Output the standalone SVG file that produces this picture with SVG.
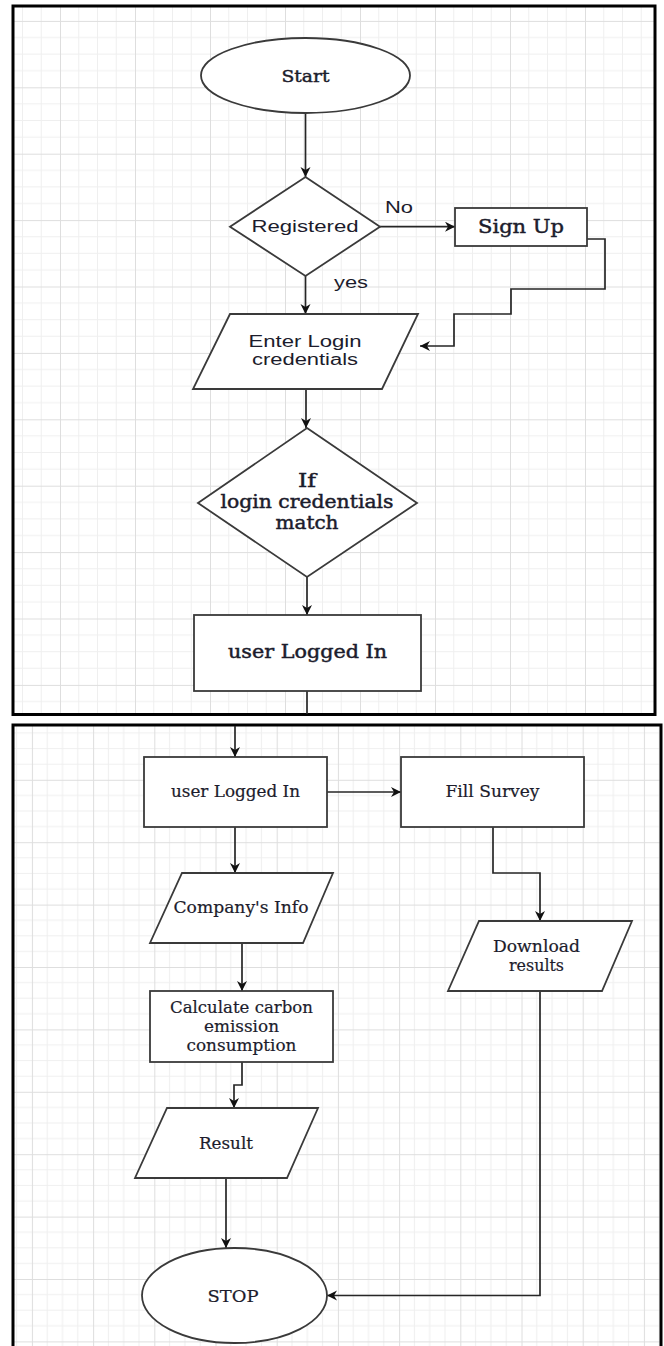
<svg xmlns="http://www.w3.org/2000/svg" width="664" height="1346" viewBox="0 0 664 1346">
<style>
.node{fill:#fff;stroke:#3a3a3a;stroke-width:1.8}
.edge{fill:none;stroke:#262626;stroke-width:1.7}
.arr{marker-end:url(#ah)}
.ser{font-family:"DejaVu Serif","Liberation Serif",serif;fill:#1c1c2c;text-anchor:middle}
.sb{stroke:#1c1c2c;stroke-width:0.45}
.sm{stroke:#1c1c2c;stroke-width:0.2}
.san{font-family:"Liberation Sans",Arial,sans-serif;fill:#1c1c2c;text-anchor:middle;font-size:16px}
.panel{stroke:#000;stroke-width:3}
</style>
<defs>
<marker id="ah" markerUnits="userSpaceOnUse" markerWidth="12" markerHeight="12" refX="10" refY="5" orient="auto">
<path d="M0,0 L10,5 L0,10 L3,5 Z" fill="#111"/>
</marker>
<pattern id="gridTop" patternUnits="userSpaceOnUse" x="60" y="20.9" width="75" height="66.4">
<rect width="75" height="66.4" fill="#fff"/>
<path d="M18.75,0V66.4M37.5,0V66.4M56.25,0V66.4M0,16.6H75M0,33.2H75M0,49.8H75" stroke="#efefef" stroke-width="1"/>
<path d="M0.5,0V66.4M0,0.5H75" stroke="#dedede" stroke-width="1"/>
</pattern>
<pattern id="gridBot" patternUnits="userSpaceOnUse" x="276.7" y="967" width="61.2" height="62.4">
<rect width="61.2" height="62.4" fill="#fff"/>
<path d="M15.3,0V62.4M30.6,0V62.4M45.9,0V62.4M0,15.6H61.2M0,31.2H61.2M0,46.8H61.2" stroke="#efefef" stroke-width="1"/>
<path d="M0.5,0V62.4M0,0.5H61.2" stroke="#dedede" stroke-width="1"/>
</pattern>
</defs>
<rect width="664" height="1346" fill="#fff"/>
<g id="panel-top"><rect class="panel" x="13" y="6" width="642" height="708.5" fill="url(#gridTop)"/></g>
<g id="panel-bottom"><rect class="panel" x="13" y="725" width="648" height="640" fill="url(#gridBot)"/></g>

<g id="connectors">
<path class="edge arr" d="M305.5,113V177"/>
<path class="edge arr" d="M380,226.7H455"/>
<path class="edge arr" d="M305.5,276V314"/>
<path class="edge arr" d="M587,239H605V289H511V314H454V346H420"/>
<path class="edge arr" d="M306,389V428"/>
<path class="edge arr" d="M307,577V615"/>
<path class="edge" d="M307,691V714"/>
<path class="edge arr" d="M235,726V757"/>
<path class="edge arr" d="M327,792H401"/>
<path class="edge arr" d="M235,827V873"/>
<path class="edge arr" d="M242,943V991"/>
<path class="edge arr" d="M242,1062V1085H234V1108"/>
<path class="edge arr" d="M493,827V873H540V921"/>
<path class="edge arr" d="M540,991V1295.5H327"/>
<path class="edge arr" d="M226,1178V1248"/>
<text class="san" x="399" y="213" textLength="28" lengthAdjust="spacingAndGlyphs">No</text>
<text class="san" x="351" y="288" textLength="34" lengthAdjust="spacingAndGlyphs">yes</text>
</g>

<g id="start">
<ellipse class="node" cx="305.5" cy="75.5" rx="104.5" ry="37.5"/>
<text class="ser sb" x="305.5" y="81.5" font-size="17" textLength="48" lengthAdjust="spacingAndGlyphs">Start</text>
</g>
<g id="registered">
<polygon class="node" points="305.5,177 380,226.7 305.5,276 230,226.7"/>
<text class="san" x="305" y="232" textLength="107" lengthAdjust="spacingAndGlyphs">Registered</text>
</g>
<g id="signup">
<rect class="node" x="455" y="208" width="132" height="38"/>
<text class="ser sb" x="521" y="233" font-size="19" textLength="86" lengthAdjust="spacingAndGlyphs">Sign Up</text>
</g>
<g id="enter-login">
<polygon class="node" points="230,314 418,314 382,389 193,389"/>
<text class="san" x="305" y="347" textLength="113" lengthAdjust="spacingAndGlyphs">Enter Login</text>
<text class="san" x="305" y="365" textLength="106" lengthAdjust="spacingAndGlyphs">credentials</text>
</g>
<g id="login-match">
<polygon class="node" points="307,428 417,503 307,577 198,503"/>
<text class="ser sb" x="307" y="487" font-size="18" textLength="18" lengthAdjust="spacingAndGlyphs">If</text>
<text class="ser sb" x="307" y="508" font-size="18" textLength="173" lengthAdjust="spacingAndGlyphs">login credentials</text>
<text class="ser sb" x="307" y="528.5" font-size="18" textLength="63" lengthAdjust="spacingAndGlyphs">match</text>
</g>
<g id="user-logged-in-1">
<rect class="node" x="194" y="615" width="227" height="76"/>
<text class="ser sb" x="307.5" y="658" font-size="18" textLength="159" lengthAdjust="spacingAndGlyphs">user Logged In</text>
</g>

<g id="user-logged-in-2">
<rect class="node" x="144" y="757" width="183" height="70"/>
<text class="ser sm" x="235.5" y="797" font-size="17" textLength="129" lengthAdjust="spacingAndGlyphs">user Logged In</text>
</g>
<g id="fill-survey">
<rect class="node" x="401" y="757" width="183" height="70"/>
<text class="ser sm" x="492.5" y="797" font-size="17" textLength="94" lengthAdjust="spacingAndGlyphs">Fill Survey</text>
</g>
<g id="company-info">
<polygon class="node" points="182,873 333,873 303,943 150,943"/>
<text class="ser sm" x="241" y="913" font-size="17" textLength="135" lengthAdjust="spacingAndGlyphs">Company's Info</text>
</g>
<g id="calculate">
<rect class="node" x="150" y="991" width="183" height="71"/>
<text class="ser sm" x="241.5" y="1012.5" font-size="17" textLength="143" lengthAdjust="spacingAndGlyphs">Calculate carbon</text>
<text class="ser sm" x="241.5" y="1031.7" font-size="17" textLength="75" lengthAdjust="spacingAndGlyphs">emission</text>
<text class="ser sm" x="241.5" y="1050.7" font-size="17" textLength="110" lengthAdjust="spacingAndGlyphs">consumption</text>
</g>
<g id="download">
<polygon class="node" points="479,921 632,921 602,991 448,991"/>
<text class="ser sm" x="536.5" y="951.7" font-size="17" textLength="87" lengthAdjust="spacingAndGlyphs">Download</text>
<text class="ser sm" x="536.5" y="971" font-size="17" textLength="55" lengthAdjust="spacingAndGlyphs">results</text>
</g>
<g id="result">
<polygon class="node" points="167,1108 318,1108 287,1178 135,1178"/>
<text class="ser sm" x="226" y="1149" font-size="17" textLength="54" lengthAdjust="spacingAndGlyphs">Result</text>
</g>
<g id="stop">
<ellipse class="node" cx="234.5" cy="1295.5" rx="92.5" ry="47.5"/>
<text class="ser sm" x="233" y="1301.5" font-size="17.5" textLength="51" lengthAdjust="spacingAndGlyphs">STOP</text>
</g>
</svg>
